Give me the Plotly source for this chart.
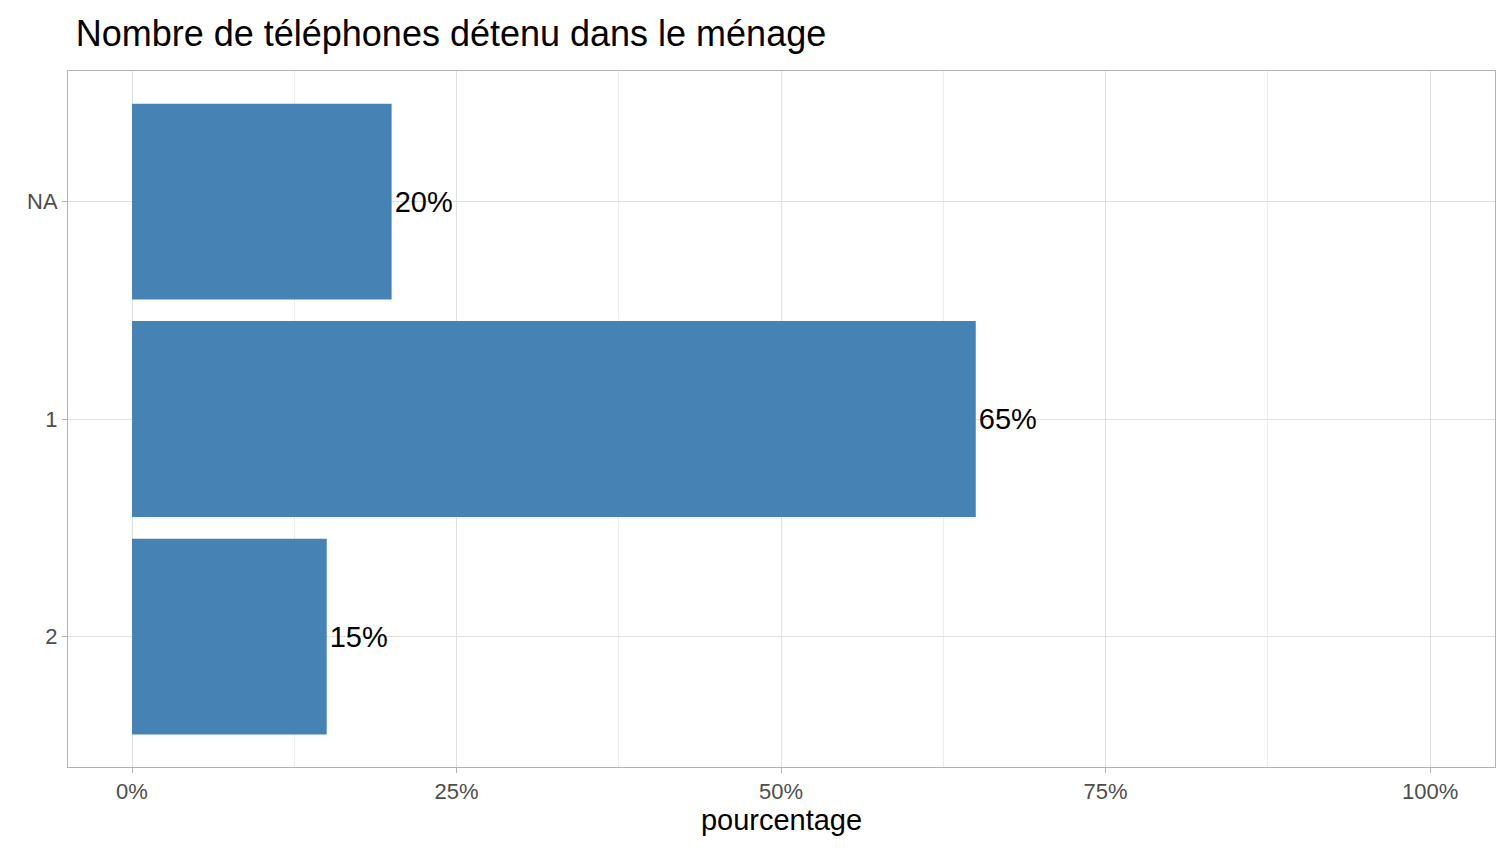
import plotly.graph_objects as go

categories = ["2", "1", "NA"]
values = [15, 65, 20]
labels = ["15%", "65%", "20%"]
tick_vals = [0, 25, 50, 75, 100]
tick_text = ["0%", "25%", "50%", "75%", "100%"]

fig = go.Figure(go.Bar(
    y=categories, x=values, orientation="h", width=0.9,
    marker=dict(color="#4682B4", line=dict(width=0)),
    text=labels, textposition="outside", cliponaxis=False,
    textfont=dict(size=29, color="black", family="Liberation Sans, Arial"),
))
fig.update_layout(
    width=1504, height=856,
    margin=dict(l=60, r=17, t=63, b=97),
    paper_bgcolor="white", plot_bgcolor="white",
    font=dict(family="Liberation Sans, Arial"),
    title=dict(text="Nombre de téléphones détenu dans le ménage", x=0.045, xanchor="left",
               y=0.97, yanchor="middle", font=dict(size=36, color="black")),
    showlegend=False,
)
fig.update_xaxes(
    range=[-4.93, 105], tickvals=tick_vals, ticktext=tick_text,
    tickfont=dict(size=22, color="#4d4d4d"),
    showgrid=True, gridcolor="#e0e0e0", gridwidth=1,
    minor=dict(tickvals=[12.5, 37.5, 62.5, 87.5], showgrid=True, gridcolor="#ececec", gridwidth=1),
    ticks="outside", ticklen=5, tickcolor="#b3b3b3",
    showline=True, linecolor="#b3b3b3", mirror=True, zeroline=False,
    title=dict(text="pourcentage", font=dict(size=29, color="black"), standoff=6),
)
fig.update_yaxes(
    type="category", categoryorder="array", categoryarray=categories,
    range=[-0.6, 2.6],
    tickfont=dict(size=22, color="#4d4d4d"),
    showgrid=True, gridcolor="#e0e0e0", gridwidth=1,
    ticks="outside", ticklen=5, tickcolor="#b3b3b3",
    showline=True, linecolor="#b3b3b3", mirror=True, zeroline=False,
)
fig.write_html("out.html")
